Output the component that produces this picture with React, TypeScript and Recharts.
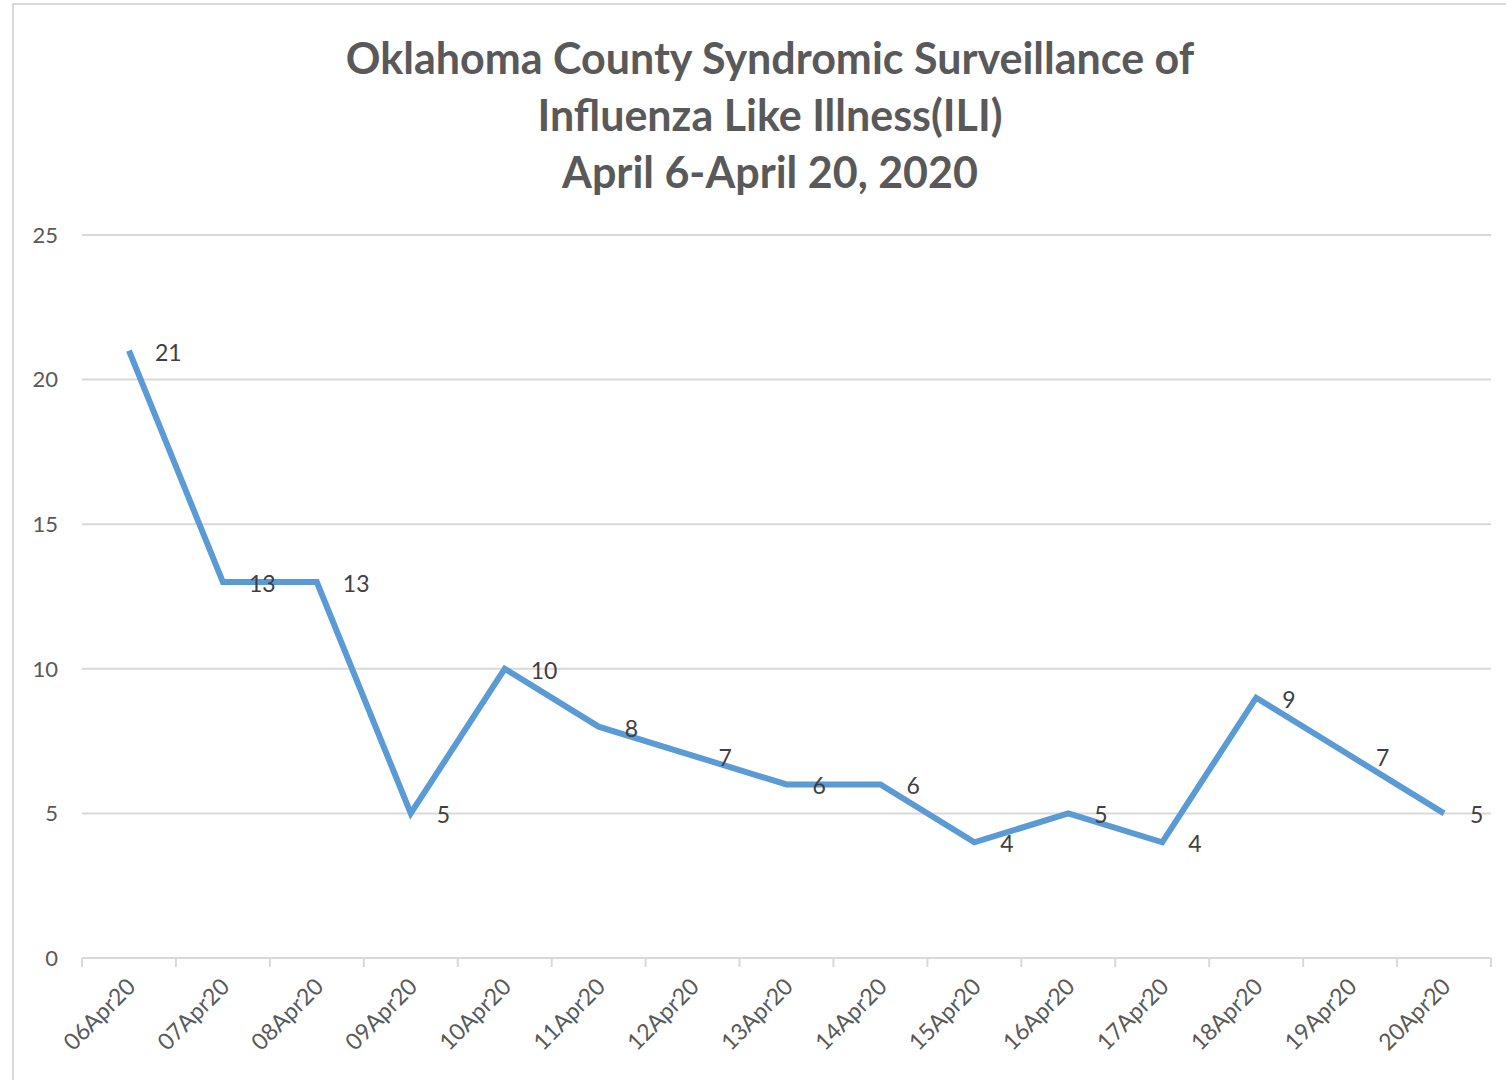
import React from 'react';
import { LineChart, Line, XAxis, YAxis, CartesianGrid, LabelList } from 'recharts';

const CATEGORIES = ['06Apr20','07Apr20','08Apr20','09Apr20','10Apr20','11Apr20','12Apr20','13Apr20','14Apr20','15Apr20','16Apr20','17Apr20','18Apr20','19Apr20','20Apr20'];
const ILI_COUNTS = [21, 13, 13, 5, 10, 8, 7, 6, 6, 4, 5, 4, 9, 7, 5];
const Y_TICKS = [0, 5, 10, 15, 20, 25];
const TITLE_LINES = ['Oklahoma County Syndromic Surveillance of', 'Influenza Like Illness(ILI)', 'April 6-April 20, 2020'];

const data = CATEGORIES.map((c, i) => ({ date: c, value: ILI_COUNTS[i] }));

const FONT = 'Lato, "Open Sans", sans-serif';
const GRID = '#d9d9d9';

const XTick = (props: any) => {
  const { x, y, payload, index } = props;
  const off = payload && payload.offset ? payload.offset : 1409 / 30;
  const isLast = index === CATEGORIES.length - 1;
  const tx = x + 8;
  const ty = y + 30;
  return (
    <g>
      <line x1={x - off} x2={x - off} y1={y} y2={y + 9} stroke={GRID} strokeWidth={2} />
      {isLast && <line x1={x + off} x2={x + off} y1={y} y2={y + 9} stroke={GRID} strokeWidth={2} />}
      <text x={tx} y={ty} transform={`rotate(-45 ${tx} ${ty})`} textAnchor="end" fontSize={23} fill="#595959" fontFamily={FONT}>
        {payload.value}
      </text>
    </g>
  );
};

const PointLabel = (props: any) => {
  const { x, y, value } = props;
  return (
    <text x={x + 26} y={y + 1} dominantBaseline="central" textAnchor="start" fontSize={23} fill="#404040" fontFamily={FONT}>
      {value}
    </text>
  );
};

export default function App() {
  return (
    <div style={{ position: 'absolute', left: 0, top: 0, width: 1506, height: 1080, background: '#fff', overflow: 'hidden', fontFamily: FONT }}>
      <div style={{ position: 'absolute', left: 12, top: 3, right: -10, bottom: -10, borderLeft: `2px solid ${GRID}`, borderTop: `2px solid ${GRID}` }} />
      <div style={{ position: 'absolute', left: 320, width: 900, top: 29, textAlign: 'center', color: '#595959', fontWeight: 700, fontSize: 43, lineHeight: '57px' }}>
        {TITLE_LINES.map((t) => (
          <div key={t}>{t}</div>
        ))}
      </div>
      <div style={{ position: 'absolute', left: 0, top: 0 }}>
        <LineChart width={1506} height={1080} data={data} margin={{ top: 235, right: 15, left: 0, bottom: 0 }}>
          <CartesianGrid vertical={false} stroke={GRID} strokeWidth={2} />
          <XAxis
            dataKey="date"
            scale="band"
            height={122}
            axisLine={{ stroke: GRID, strokeWidth: 2 }}
            tickLine={false}
            tickSize={0}
            tickMargin={0}
            interval={0}
            tick={<XTick />}
          />
          <YAxis
            domain={[0, 25]}
            ticks={Y_TICKS}
            width={82}
            axisLine={false}
            tickLine={false}
            tickSize={0}
            tickMargin={24}
            tick={{ fontSize: 22, fill: '#595959', fontFamily: FONT }}
          />
          <Line dataKey="value" stroke="#5b9bd5" strokeWidth={6} dot={false} isAnimationActive={false}>
            <LabelList dataKey="value" content={<PointLabel />} />
          </Line>
        </LineChart>
      </div>
    </div>
  );
}
